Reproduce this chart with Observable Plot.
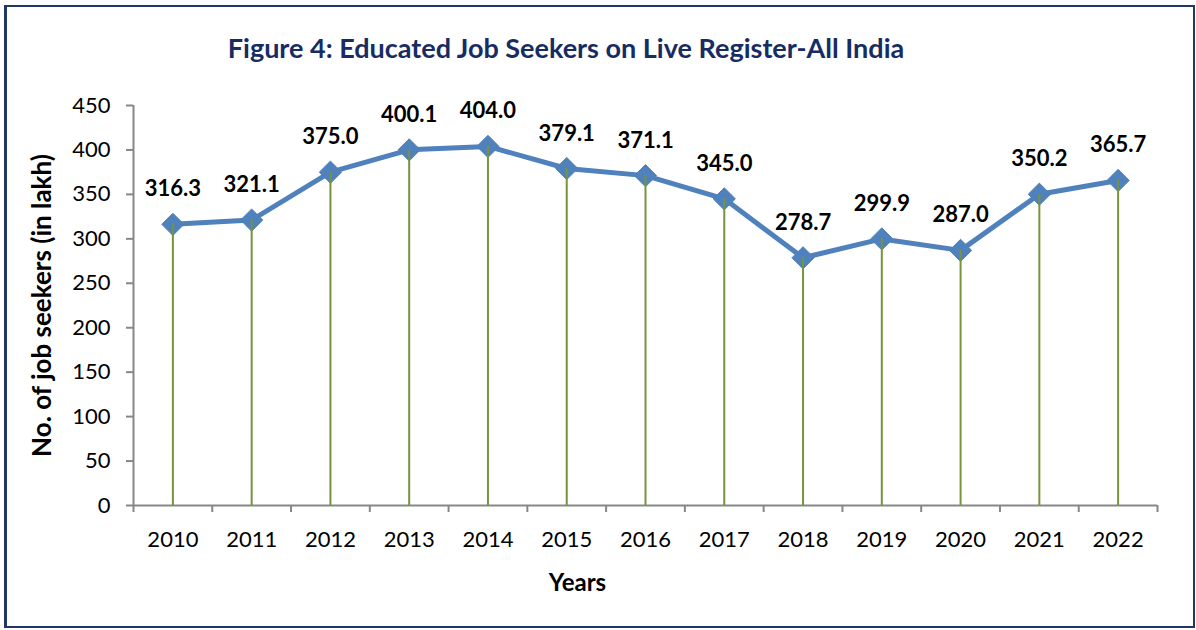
<!DOCTYPE html>
<html>
<head>
<meta charset="utf-8">
<script src="https://cdn.jsdelivr.net/npm/d3@7"></script>
<script src="https://cdn.jsdelivr.net/npm/@observablehq/plot@0.6"></script>
<style>
  html, body { margin: 0; padding: 0; background: #fff; }
  #wrap { position: relative; width: 1196px; height: 630px; overflow: hidden; font-family: Lato, "Open Sans", sans-serif; }
  #frame { position: absolute; left: 4px; top: 5px; width: 1186px; height: 619px; border: 2px solid #1f3864; border-left-width: 3px; pointer-events: none; }
  #title { height: 90px; box-sizing: border-box; padding-top: 32px; text-align: center; font-size: 27px; font-weight: bold; color: #172c63; padding-right: 64px; line-height: 32px; white-space: nowrap; }
  #chart svg { display: block; }
</style>
</head>
<body>
<div id="wrap">
  <div id="title">Figure 4: Educated Job Seekers on Live Register-All India</div>
  <div id="chart"></div>
  <div id="frame"></div>
</div>
<script>
const years = [2010, 2011, 2012, 2013, 2014, 2015, 2016, 2017, 2018, 2019, 2020, 2021, 2022];
const seekers = [316.3, 321.1, 375.0, 400.1, 404.0, 379.1, 371.1, 345.0, 278.7, 299.9, 287.0, 350.2, 365.7];
const yTicks = [0, 50, 100, 150, 200, 250, 300, 350, 400, 450];
const labelX = "Years";
const labelY = "No. of job seekers (in lakh)";

const data = years.map((y, i) => ({year: y, value: seekers[i]}));
const xDomain = [years[0] - 0.5, years[years.length - 1] + 0.5];
const bounds = years.map(y => y - 0.5).concat([years[years.length - 1] + 0.5]);
const gray = "#878787";

const chart = Plot.plot({
  width: 1196,
  height: 540,
  marginLeft: 133,
  marginRight: 39,
  marginTop: 15,
  marginBottom: 125,
  style: {fontFamily: "Lato, 'Open Sans', sans-serif", background: "transparent", color: "#000"},
  x: {type: "linear", domain: xDomain},
  y: {domain: [0, 450]},
  marks: [
    Plot.axisY({ticks: yTicks, tickSize: 7, tickPadding: 16, stroke: gray, strokeWidth: 2, fill: "#000", fontSize: 22, label: null}),
    Plot.axisX({ticks: bounds, tickSize: 7, tickFormat: () => "", stroke: gray, strokeWidth: 2, label: null}),
    Plot.axisX({ticks: years, tickSize: 0, tickPadding: 26, tickFormat: d => String(d), fill: "#000", fontSize: 22, label: null}),
    Plot.ruleX([xDomain[0]], {stroke: gray, strokeWidth: 2}),
    Plot.ruleY([0], {stroke: gray, strokeWidth: 2}),
    Plot.line(data, {x: "year", y: "value", stroke: "#4f81bd", strokeWidth: 5, strokeLinejoin: "round"}),
    Plot.dot(data, {x: "year", y: "value", symbol: "diamond2", r: 10, fill: "#4f81bd", stroke: "#4f81bd", strokeWidth: 1}),
    Plot.ruleX(data, {x: "year", y1: 0, y2: "value", stroke: "#77933c", strokeWidth: 2}),
    Plot.text(data, {x: "year", y: "value", text: d => d.value.toFixed(1), dy: -35, fontSize: 22, fontWeight: "bold", fill: "#000"}),
    Plot.text([labelX], {frameAnchor: "bottom", dx: -68, dy: 85, text: d => d, fontSize: 24, fontWeight: "bold", fill: "#000"}),
    Plot.text([labelY], {frameAnchor: "left", dx: -91, rotate: -90, textAnchor: "middle", text: d => d, fontSize: 26, fontWeight: "bold", fill: "#000"})
  ]
});
document.getElementById("chart").appendChild(chart);
</script>
</body>
</html>
